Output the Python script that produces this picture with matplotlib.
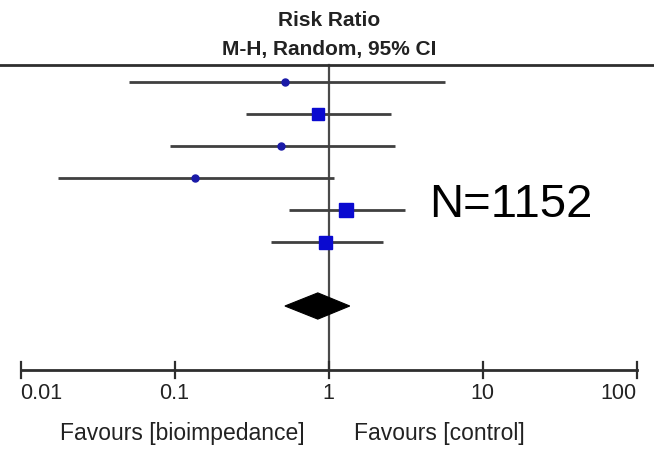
import numpy as np
import matplotlib
matplotlib.use("Agg")
import matplotlib.pyplot as plt
from matplotlib.patches import Polygon

# ---- data ----
rr = [0.52, 0.85, 0.49, 0.135, 1.29, 0.94]
ci_lo = [0.0506, 0.29, 0.094, 0.0175, 0.55, 0.42]
ci_hi = [5.66, 2.53, 2.68, 1.09, 3.11, 2.24]
weights = [7.0, 12.5, 7.0, 7.0, 14.5, 13.0]  # marker sizes in px (study weight)
pooled = 0.85
pooled_lo = 0.52
pooled_hi = 1.37
tick_values = [0.01, 0.1, 1, 10, 100]
tick_labels = ["0.01", "0.1", "1", "10", "100"]
title1 = "Risk Ratio"
title2 = "M-H, Random, 95% CI"
fav_left = "Favours [bioimpedance]"
fav_right = "Favours [control]"
n_text = "N=1152"

plt.rcParams['font.family'] = ['Liberation Sans', 'DejaVu Sans']

W, H, DPI = 654, 453, 100
fig = plt.figure(figsize=(W / DPI, H / DPI), dpi=DPI)
ax = fig.add_axes([0, 0, 1, 1])
ax.set_xscale('log')

# pixel mapping: 0.01 -> x=20.5 px, 154.1 px per decade
ppd = 154.1
x0 = 20.5
ax.set_xlim(10 ** (-2 - x0 / ppd), 10 ** (-2 + (W - x0) / ppd))
# rows: row i at y = 82 + 32*i px
ax.set_ylim((H - 82) / 32, -82 / 32)
ax.axis('off')

line_col = '#404040'
blue = '#0a0ad0'
small_blue = '#1a1aa8'
n = len(rr)
rows = np.arange(n)
axis_y = 9.0
top_y = -0.531
diamond_row = 7

# top rule
ax.axhline(top_y, color='#2e2e2e', lw=2.0, zorder=2)
# line of no effect
ax.plot([1, 1], [top_y, axis_y], color='#4a4a4a', lw=1.6, zorder=1)

# study CIs and markers
for i in range(n):
    ax.plot([ci_lo[i], ci_hi[i]], [rows[i], rows[i]], color=line_col, lw=2.0,
            solid_capstyle='butt', zorder=2)
    if weights[i] < 10:
        ax.plot(rr[i], rows[i], marker='o', ms=weights[i] * 72 / DPI, color=small_blue,
                mec=small_blue, zorder=3)
    else:
        ax.plot(rr[i], rows[i], marker='s', ms=weights[i] * 72 / DPI, color=blue,
                mec=blue, zorder=3)

# pooled diamond
hh = 0.41
diamond = Polygon([[pooled_lo, diamond_row], [pooled, diamond_row - hh],
                   [pooled_hi, diamond_row], [pooled, diamond_row + hh]],
                  closed=True, facecolor='black', edgecolor='black', lw=0.8, zorder=3)
ax.add_patch(diamond)

# x axis
ax.plot([tick_values[0], tick_values[-1]], [axis_y, axis_y], color='#2e2e2e', lw=2.0, zorder=2)
for tv, tl in zip(tick_values, tick_labels):
    ax.plot([tv, tv], [axis_y - 0.25, axis_y + 0.25], color='#2e2e2e', lw=1.6, zorder=2)
    ha = 'center'
    if tv == tick_values[0]:
        ha = 'left'
    elif tv == tick_values[-1]:
        ha = 'right'
    ax.text(tv, 9.906, tl, ha=ha, va='baseline', fontsize=15.5, color='#222222')

# favours labels
ax.text(0.7, 11.19, fav_left, ha='right', va='baseline', fontsize=16.5, color='#222222')
ax.text(1.45, 11.19, fav_right, ha='left', va='baseline', fontsize=16.5, color='#222222')

# titles
ax.text(1, -1.75, title1, ha='center', va='baseline', fontsize=15, fontweight='bold', color='#222222')
ax.text(1, -0.84, title2, ha='center', va='baseline', fontsize=15, fontweight='bold', color='#222222')

# N annotation
ax.text(10 ** ((429 - 329) / ppd), 4.22, n_text, ha='left', va='baseline', fontsize=34, color='black')

fig.savefig('out.png', dpi=DPI)
